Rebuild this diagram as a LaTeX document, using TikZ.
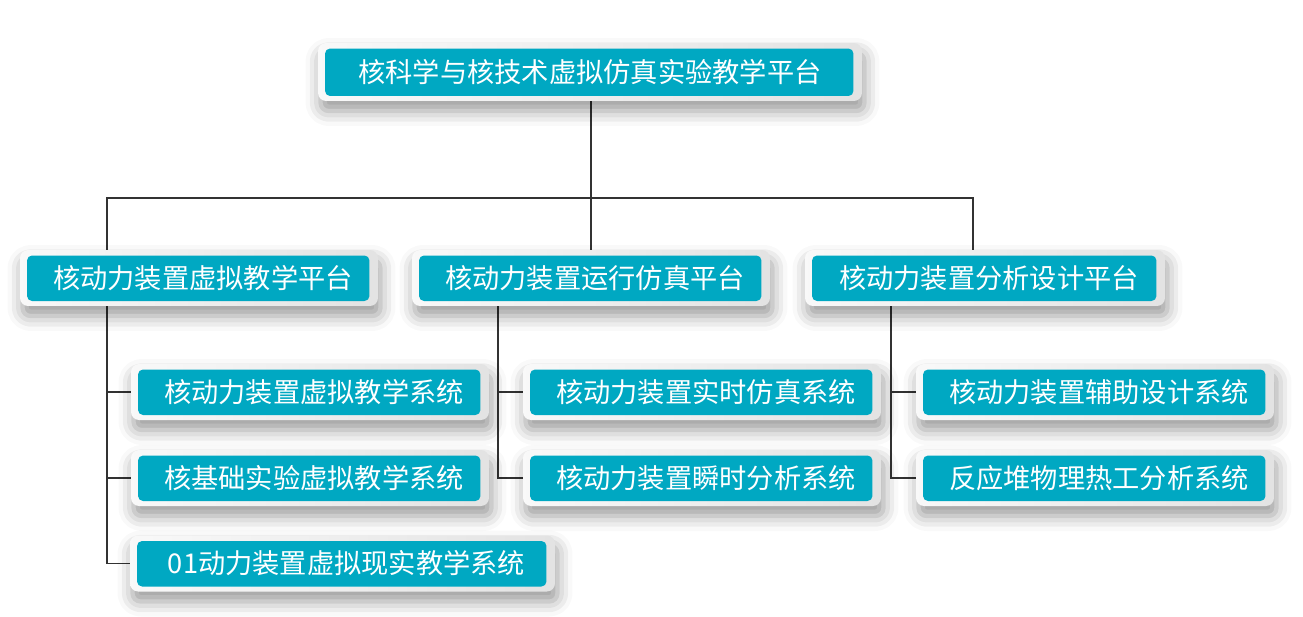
\documentclass[tikz,border=0pt]{standalone}
\usepackage{fontspec}
\setmainfont{Noto Sans CJK SC}
\usetikzlibrary{shadows.blur,backgrounds}
\definecolor{boxteal}{RGB}{0,168,194}
\definecolor{linegray}{RGB}{50,50,50}

\tikzset{
  box/.style={rounded corners=0.16cm, left color=gray!5, right color=gray!22,
    draw=none, inner sep=0pt, minimum height=1.12cm, minimum width=7.16cm,
    text=white, font=\fontsize{15.5pt}{18pt}\selectfont,
    blur shadow={shadow xshift=0.05cm, shadow yshift=-0.2cm, shadow blur radius=0.3cm, shadow opacity=40},
    path picture={\fill[boxteal, rounded corners=0.1cm]
      ([shift={(0.14cm,-0.11cm)}]path picture bounding box.north west) rectangle
      ([shift={(-0.17cm,0.1cm)}]path picture bounding box.south east);}},
  subbox/.style={box, execute at begin node=\hspace{0.16cm}},
  conn/.style={draw=linegray, line width=0.6pt}
}

\begin{document}
\begin{tikzpicture}[x=0.02cm, y=-0.02cm]
    \useasboundingbox (0,0) rectangle (1303,616);

    % 顶层平台
    \node[box, minimum width=10.88cm, minimum height=1.16cm] (root) at (590,72) {核科学与核技术虚拟仿真实验教学平台};

    % 第二层：三个平台
    \node[subbox] (pa) at (199,278) {核动力装置虚拟教学平台};
    \node[subbox] (pb) at (591,278) {核动力装置运行仿真平台};
    \node[subbox, minimum width=7.2cm] (pc) at (985,278) {核动力装置分析设计平台};

    % 第三层：各系统
    \node[subbox] (a1) at (310,392) {核动力装置虚拟教学系统};
    \node[subbox] (a2) at (310,478) {核基础实验虚拟教学系统};
    \node[subbox, minimum width=8.5cm] (a3) at (342.5,563.5) {01动力装置虚拟现实教学系统};
    \node[subbox] (b1) at (702,392) {核动力装置实时仿真系统};
    \node[subbox] (b2) at (702,478) {核动力装置瞬时分析系统};
    \node[subbox] (c1) at (1095,392) {核动力装置辅助设计系统};
    \node[subbox] (c2) at (1095,478) {反应堆物理热工分析系统};

    % 连线用的拐点
    \coordinate (bus) at (591,198);
    \coordinate (ja) at (107,198);
    \coordinate (jc) at (973,198);
    \coordinate (kb) at (498,306);
    \coordinate (kc) at (891,306);

    \begin{scope}[on background layer]
        % 顶层到第二层
        \draw[conn] (root.south -| bus) -- (bus);
        \draw[conn] (ja |- pa.north) -- (ja) -- (jc) -- (jc |- pc.north);
        \draw[conn] (pb.north) -- (pb.north |- bus);

        % 左列
        \draw[conn] (ja |- pa.south) -- (ja |- a3.west) -- (a3.west);
        \draw[conn] (ja |- a1.west) -- (a1.west);
        \draw[conn] (ja |- a2.west) -- (a2.west);

        % 中列
        \draw[conn] (kb |- pb.south) -- (kb |- b2.west) -- (b2.west);
        \draw[conn] (kb |- b1.west) -- (b1.west);

        % 右列
        \draw[conn] (kc |- pc.south) -- (kc |- c2.west) -- (c2.west);
        \draw[conn] (kc |- c1.west) -- (c1.west);
    \end{scope}
\end{tikzpicture}
\end{document}
